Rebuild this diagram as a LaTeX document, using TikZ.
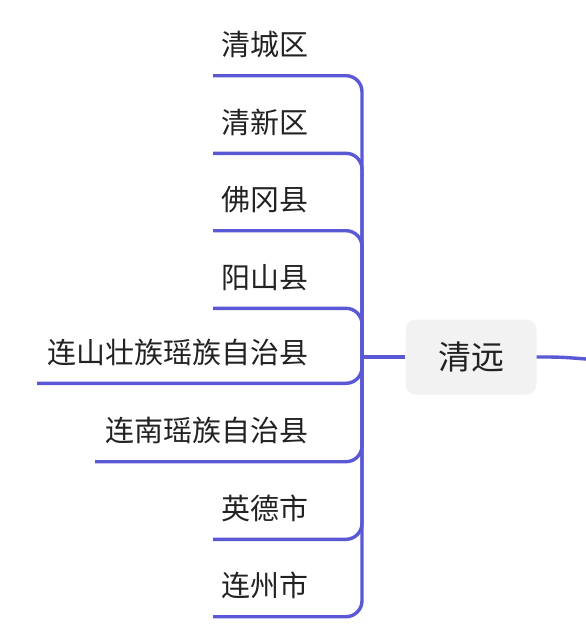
\documentclass[tikz,border=0pt]{standalone}
\usepackage{fontspec}
\newfontfamily\cjk{Noto Sans CJK SC}
\definecolor{branch}{RGB}{90,88,212}
\definecolor{boxfill}{RGB}{242,242,242}
\definecolor{txt}{RGB}{34,34,34}
\begin{document}
\begin{tikzpicture}[x=1pt,y=-1pt,
  item/.style={anchor=east,inner sep=0pt,font=\cjk\fontsize{29}{32}\selectfont,text=txt},
  link/.style={draw=branch,line width=3.4pt,rounded corners=16pt},
  hub/.style={fill=boxfill,rounded corners=10pt,minimum width=131pt,minimum height=75pt,inner sep=0pt,font=\cjk\fontsize{33}{36}\selectfont,text=txt}]
\useasboundingbox (0,0) rectangle (586,630);
\node[hub] (root) at (471,357) {清远};
\coordinate (j) at (362,357);
\coordinate (out) at (586,359);
\foreach \name/\txt/\y/\xl in {a/清城区/75.7/213, b/清新区/153.3/213, c/佛冈县/230.7/213, d/阳山县/308.3/213, e/连山壮族瑶族自治县/383.3/37, f/连南瑶族自治县/461.7/95, g/英德市/539.3/213, h/连州市/616.7/213}{
  \node[item] (\name) at (309,\y-31) {\txt};
  \coordinate (\name l) at (\xl,\y);
  \draw[link] (\name l) -- (362,\y) -- (j);
}
\draw[draw=branch,line width=3.4pt] (j) -- (root.west);
\draw[draw=branch,line width=3.4pt] (root.east) .. controls (560,357) .. (out);
\end{tikzpicture}
\end{document}
